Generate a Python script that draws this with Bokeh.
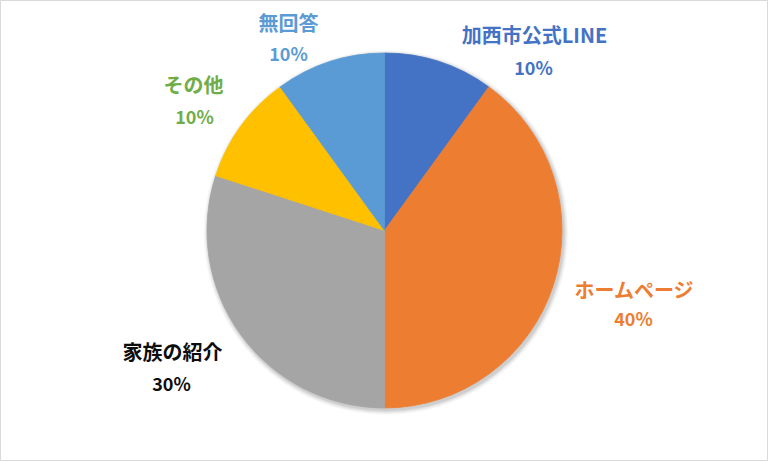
import math
from bokeh.plotting import figure
from bokeh.models import Range1d, ColumnDataSource
from bokeh.core.properties import value
from bokeh.embed import file_html
from bokeh.resources import INLINE

# ---- data ----
categories = ["加西市公式LINE", "ホームページ", "家族の紹介", "その他", "無回答"]
values = [10, 40, 30, 10, 10]
slice_colors = ["#4472C4", "#ED7D31", "#A5A5A5", "#FFC000", "#5B9BD5"]
label_colors = ["#4472C4", "#ED7D31", "#0D0D0D", "#70AD47", "#5B9BD5"]

# ---- layout (pixel positions from top-left) ----
W, H = 768, 461
CX, CY, R = 384, 230, 177.5
name_pos = [(534, 34), (634, 289), (172, 351), (193, 84), (288, 22)]
pct_pos = [(533, 66), (633, 317), (171, 382), (194, 115), (288, 52)]

def tx(x):
    return x

def ty(y):
    return H - y

total = sum(values)
starts, ends = [], []
cum = 0.0
for v in values:
    starts.append(math.pi / 2 - 2 * math.pi * cum / total)
    cum += v
    ends.append(math.pi / 2 - 2 * math.pi * cum / total)

p = figure(width=W, height=H, output_backend="svg", toolbar_location=None,
           x_range=Range1d(0, W), y_range=Range1d(0, H),
           x_axis_location=None, y_axis_location=None, min_border=0)
p.grid.visible = False
p.outline_line_color = "#D9D9D9"
p.outline_line_width = 1
p.background_fill_color = "white"
p.border_fill_color = "white"

# soft shadow
for k, a in [(5, 0.025), (4, 0.03), (3, 0.04), (2, 0.05), (1, 0.06)]:
    p.circle(x=[tx(CX) + 1.5], y=[ty(CY) - 2], radius=R + k, radius_units="data",
             fill_color="black", fill_alpha=a, line_color=None)

src = ColumnDataSource(dict(start=starts, end=ends, color=slice_colors))
p.wedge(x=tx(CX), y=ty(CY), radius=R, start_angle="start", end_angle="end",
        direction="clock", fill_color="color", line_color="color", line_width=0.8,
        source=src)

pcts = [f"{v / total * 100:.0f}%" for v in values]
name_src = ColumnDataSource(dict(x=[tx(a) for a, b in name_pos], y=[ty(b) for a, b in name_pos],
                                 t=categories, c=label_colors))
pct_src = ColumnDataSource(dict(x=[tx(a) for a, b in pct_pos], y=[ty(b) for a, b in pct_pos],
                                t=pcts, c=label_colors))
p.text(x="x", y="y", text="t", text_color="c", source=name_src,
       text_font=value("Noto Sans CJK JP"), text_font_size="20px", text_font_style="bold",
       text_align="center", text_baseline="middle")
p.text(x="x", y="y", text="t", text_color="c", source=pct_src,
       text_font=value("Noto Sans CJK JP"), text_font_size="18px", text_font_style="bold",
       text_align="center", text_baseline="middle")

open("out.html", "w").write(file_html(p, INLINE))
